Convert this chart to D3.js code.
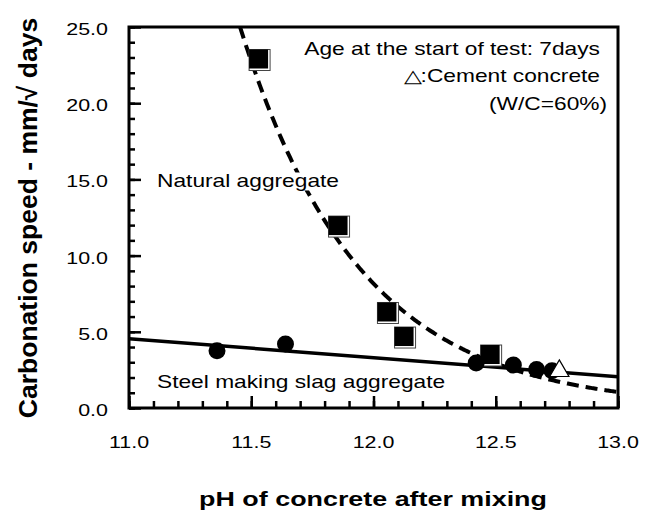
<!DOCTYPE html>
<html>
<head>
<meta charset="utf-8">
<script src="https://cdn.jsdelivr.net/npm/d3@7"></script>
<style>
  body { margin: 0; background: #fff; }
  svg text { font-family: "Liberation Sans", Arial, sans-serif; fill: #000; }
</style>
</head>
<body>
<svg id="chart" width="654" height="515"></svg>
<script>
// natural aggregate (squares)
var naturalPH = [11.53, 11.855, 12.055, 12.125, 12.477];
var naturalSpeed = [22.9, 11.97, 6.3, 4.69, 3.51];
// steel making slag aggregate (circles)
var slagPH = [11.36, 11.64, 12.42, 12.572, 12.667, 12.73];
var slagSpeed = [3.75, 4.2, 2.95, 2.82, 2.53, 2.45];
// cement concrete W/C=60% (triangle)
var cementPH = [12.76];
var cementSpeed = [2.43];
// fitted lines
var slagFit = { a: 18.3, b: -1.25 };       // y = a + b*x
var naturalFit = { c: 26.70, k: 2.05 };   // y = exp(c - k*x)
// ticks
var xMajor = [11.0, 11.5, 12.0, 12.5, 13.0];
var yMajor = [0, 5, 10, 15, 20, 25];

var svg = d3.select("#chart");
var x = d3.scaleLinear().domain([11, 13]).range([129, 618]);
var y = d3.scaleLinear().domain([0, 25]).range([408, 27]);
var SX = 1.3; // horizontal text stretch seen in the reference

var xMinor = d3.range(11, 13.001, 0.1).map(function(d) { return +d.toFixed(1); });
var yMinor = d3.range(0, 25.001, 1);

svg.append("defs").append("clipPath").attr("id", "plotClip")
  .append("rect").attr("x", x(11)).attr("y", y(25))
  .attr("width", x(13) - x(11)).attr("height", y(0) - y(25));

// ticks (inward)
function tickStyle(g) {
  g.select(".domain").remove();
  g.selectAll("line").attr("stroke", "#000").attr("stroke-width", 2.5);
}
svg.append("g").attr("transform", "translate(0," + y(0) + ")")
  .call(d3.axisBottom(x).tickValues(xMinor).tickSize(-7).tickFormat("")).call(tickStyle);
svg.append("g").attr("transform", "translate(0," + y(0) + ")")
  .call(d3.axisBottom(x).tickValues(xMajor).tickSize(-12).tickFormat("")).call(tickStyle);
svg.append("g").attr("transform", "translate(" + x(11) + ",0)")
  .call(d3.axisLeft(y).tickValues(yMinor).tickSize(-6).tickFormat("")).call(tickStyle);
svg.append("g").attr("transform", "translate(" + x(11) + ",0)")
  .call(d3.axisLeft(y).tickValues(yMajor).tickSize(-12).tickFormat("")).call(tickStyle);

// tick labels
svg.selectAll("text.xlab").data(xMajor).enter().append("text")
  .attr("class", "xlab")
  .attr("transform", function(d) { return "translate(" + x(d) + ",448) scale(" + SX + ",1)"; })
  .attr("text-anchor", "middle").attr("font-size", 16.5)
  .text(function(d) { return d.toFixed(1); });
svg.selectAll("text.ylab").data(yMajor).enter().append("text")
  .attr("class", "ylab")
  .attr("transform", function(d) { return "translate(108," + (y(d) + 8) + ") scale(" + SX + ",1)"; })
  .attr("text-anchor", "end").attr("font-size", 16.5)
  .text(function(d) { return d.toFixed(1); });

// axis titles
svg.append("text")
  .attr("transform", "translate(373,506) scale(1.28,1)")
  .attr("text-anchor", "middle").attr("font-size", 21).attr("font-weight", "bold")
  .text("pH of concrete after mixing");
svg.append("text")
  .attr("transform", "translate(37,218) rotate(-90)")
  .attr("text-anchor", "middle").attr("font-size", 26.5).attr("font-weight", "bold")
  .text("Carbonation speed - mm/\u221A days");

var plot = svg.append("g").attr("clip-path", "url(#plotClip)");

// natural aggregate fit (dashed)
var x0 = (naturalFit.c - Math.log(25)) / naturalFit.k;
var curvePts = d3.range(x0, 13.0001, 0.005).map(function(p) {
  return [p, Math.exp(naturalFit.c - naturalFit.k * p)];
});
plot.append("path").datum(curvePts)
  .attr("d", d3.line().x(function(d) { return x(d[0]); }).y(function(d) { return y(d[1]); }))
  .attr("fill", "none").attr("stroke", "#000").attr("stroke-width", 4)
  .attr("stroke-dasharray", "12,7");

// slag fit (solid)
plot.append("line")
  .attr("x1", x(11)).attr("y1", y(slagFit.a + slagFit.b * 11))
  .attr("x2", x(13)).attr("y2", y(slagFit.a + slagFit.b * 13))
  .attr("stroke", "#000").attr("stroke-width", 3.5);

// labels inside plot
function stretchedText(tx, ty, str, anchor, bg) {
  var t = svg.append("text")
    .attr("transform", "translate(" + tx + "," + ty + ") scale(" + SX + ",1)")
    .attr("text-anchor", anchor).attr("font-size", 17.5).text(str);
  if (bg) {
    var b = t.node().getBBox();
    svg.insert("rect", function() { return t.node(); })
      .attr("transform", "translate(" + tx + "," + ty + ") scale(" + SX + ",1)")
      .attr("x", b.x - 1).attr("y", b.y + 1).attr("width", b.width + 2).attr("height", b.height - 1)
      .attr("fill", "#fff");
  }
  return t;
}
stretchedText(157, 187, "Natural aggregate", "start", true);
stretchedText(157, 388, "Steel making slag aggregate", "start", false);
stretchedText(600, 55, "Age at the start of test: 7days", "end", false);
stretchedText(600, 82, "\u25B3:Cement concrete", "end", false);
stretchedText(489, 110, "(W/C=60%)", "start", false);

// markers
var squares = svg.append("g");
naturalPH.forEach(function(p, i) {
  var cx = x(p), cy = y(naturalSpeed[i]);
  squares.append("rect").attr("x", cx - 9.5).attr("y", cy - 9.5)
    .attr("width", 21).attr("height", 21)
    .attr("fill", "#fff").attr("stroke", "#444").attr("stroke-width", 1);
  squares.append("rect").attr("x", cx - 9.5).attr("y", cy - 9.5)
    .attr("width", 19).attr("height", 19).attr("fill", "#000");
});

svg.append("g").selectAll("circle").data(slagPH).enter().append("circle")
  .attr("cx", function(d) { return x(d); })
  .attr("cy", function(d, i) { return y(slagSpeed[i]); })
  .attr("r", 8.5).attr("fill", "#000");

var tri = d3.symbol().type(d3.symbolTriangle).size(160);
svg.append("g").selectAll("path").data(cementPH).enter().append("path")
  .attr("d", tri)
  .attr("transform", function(d, i) { return "translate(" + x(d) + "," + y(cementSpeed[i]) + ")"; })
  .attr("fill", "#fff").attr("stroke", "#000").attr("stroke-width", 1.2);

// frame
svg.append("rect").attr("x", x(11)).attr("y", y(25))
  .attr("width", x(13) - x(11)).attr("height", y(0) - y(25))
  .attr("fill", "none").attr("stroke", "#000").attr("stroke-width", 3);
</script>
</body>
</html>
